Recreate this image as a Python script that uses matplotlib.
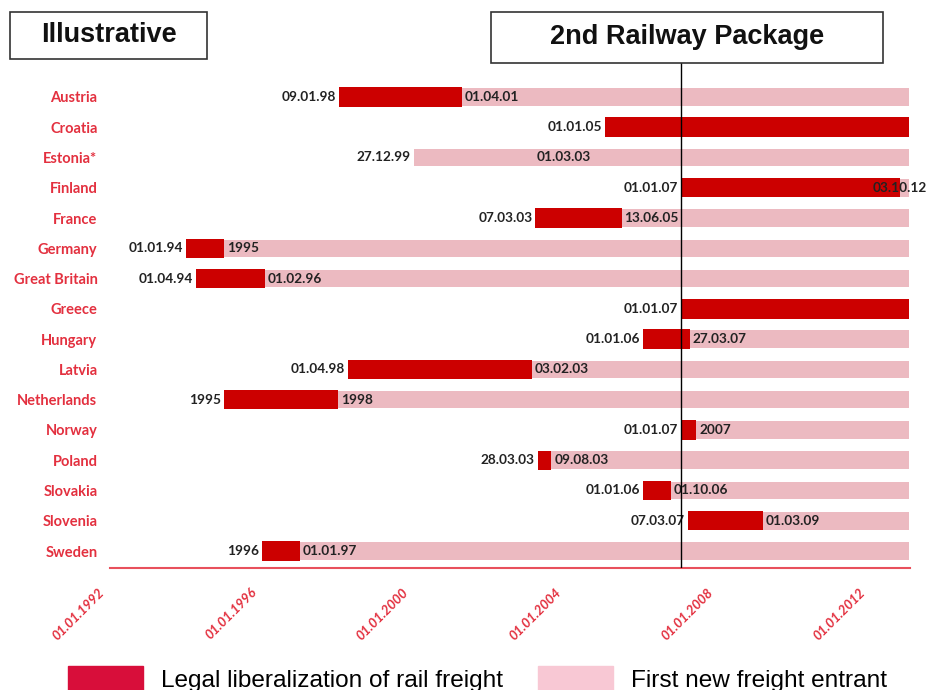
import matplotlib
matplotlib.use("Agg")
import matplotlib.pyplot as plt
from matplotlib.patches import Rectangle, Patch
import matplotlib.transforms as mtransforms
import numpy as np

# --------------------------
# data: dates as dd.mm.yy (or yyyy)
# --------------------------
countries = ["Austria", "Croatia", "Estonia*", "Finland", "France", "Germany",
             "Great Britain", "Greece", "Hungary", "Latvia", "Netherlands",
             "Norway", "Poland", "Slovakia", "Slovenia", "Sweden"]

# legal liberalization of rail freight
lib_dates = ["09.01.98", "01.01.05", "01.03.03", "01.01.07", "07.03.03", "01.01.94",
             "01.04.94", "01.01.07", "01.01.06", "01.04.98", "1995",
             "01.01.07", "28.03.03", "01.01.06", "07.03.07", "1996"]

# first new freight entrant (None = no entrant yet)
entrant_dates = ["01.04.01", None, "27.12.99", "03.10.12", "13.06.05", "1995",
                 "01.02.96", None, "27.03.07", "03.02.03", "1998",
                 "01.06.07", "09.08.03", "01.10.06", "01.03.09", "01.01.97"]
# Norway only known by year
entrant_text = {"Norway": "2007"}

period_end = "31.12.12"
package_date = "01.01.07"   # 2nd Railway Package

tick_years = [1992, 1996, 2000, 2004, 2008, 2012]
tick_labels = ["01.01.%d" % y for y in tick_years]

dark = "#cc0000"
pink = "#ecbac1"
red_txt = "#e3303f"


def to_year(s):
    parts = s.split(".")
    if len(parts) == 1:
        return float(parts[0])
    d, m, y = (int(p) for p in parts)
    y = y + (1900 if y > 50 else 2000)
    return y + (m - 1) / 12 + (d - 1) / 365


fig = plt.figure(figsize=(9.33, 6.9), dpi=100)
ax = fig.add_axes([110 / 933, (690 - 568) / 690, 800 / 933, (568 - 63) / 690])

end = to_year(period_end)
lab_kw = dict(fontsize=9.8, fontweight="bold", family=["Lato", "DejaVu Sans"],
              color="#222222", va="center", textcoords="offset points")

for i, c in enumerate(countries):
    lib = to_year(lib_dates[i])
    ent = to_year(entrant_dates[i]) if entrant_dates[i] else None
    ent_txt = entrant_text.get(c, entrant_dates[i])

    if ent is None:
        ax.barh(i, end - lib, left=lib, height=0.64, color=dark)
        ax.annotate(lib_dates[i], (lib, i), xytext=(-2, 0), ha="right", **lab_kw)
    elif ent < lib:
        # entrant came before the legal opening
        ax.barh(i, end - ent, left=ent, height=0.58, color=pink)
        ax.annotate(ent_txt, (ent, i), xytext=(-2, 0), ha="right", **lab_kw)
        ax.annotate(lib_dates[i], (lib, i), xytext=(1, 0), ha="left", **lab_kw)
    else:
        ax.barh(i, end - ent, left=ent, height=0.58, color=pink)
        ax.barh(i, ent - lib, left=lib, height=0.64, color=dark)
        ax.annotate(lib_dates[i], (lib, i), xytext=(-2, 0), ha="right", **lab_kw)
        if end - ent < 0.5:
            ax.annotate(ent_txt, (ent, i), xytext=(0, 0), ha="center", **lab_kw)
        else:
            ax.annotate(ent_txt, (ent, i), xytext=(2, 0), ha="left", **lab_kw)

ax.axvline(to_year(package_date), color="black", lw=1, zorder=5)

ax.set_xlim(1992, 2013.03)
ax.set_ylim(15.56, -1.12)
ax.set_yticks(np.arange(len(countries)))
ax.set_yticklabels(countries, color=red_txt, fontsize=10.5, fontweight="bold",
                   family=["Lato", "DejaVu Sans"])
ax.tick_params(axis="y", length=0, pad=9)

ax.set_xticks(tick_years)
ax.set_xticklabels(tick_labels, rotation=45, ha="right", va="top",
                   rotation_mode="anchor", color=red_txt, fontsize=9.5,
                   fontstyle="italic", fontweight="bold",
                   family=["Lato", "DejaVu Sans"])
ax.tick_params(axis="x", length=0, pad=13)
shift = mtransforms.ScaledTranslation(-12 / 100, 0, fig.dpi_scale_trans)
for t in ax.get_xticklabels():
    t.set_transform(t.get_transform() + shift)

for s in ["top", "right", "left"]:
    ax.spines[s].set_visible(False)
ax.spines["bottom"].set_color("#e8505c")
ax.spines["bottom"].set_linewidth(1.5)

# header boxes
W, H = 933, 690
for (x0, y0, x1, y1), txt in [((10, 12, 207, 59), "Illustrative"),
                              ((491, 12, 883, 63), "2nd Railway Package")]:
    fig.patches.append(Rectangle((x0 / W, 1 - y1 / H), (x1 - x0) / W, (y1 - y0) / H,
                                 transform=fig.transFigure, fill=False,
                                 ec="#333333", lw=1.2))
    fig.text((x0 + x1) / 2 / W, 1 - (y0 + y1) / 2 / H, txt, ha="center",
             va="center", fontsize=19.5, fontweight="bold",
             family=["Liberation Sans", "DejaVu Sans"], color="#111111")

handles = [Patch(color="#d80e3a", label="Legal liberalization of rail freight"),
           Patch(color="#f8c8d4", label="First new freight entrant")]
fig.legend(handles=handles, loc="center left", bbox_to_anchor=(68 / W, 11 / H),
           ncol=2, frameon=False, prop={"family": ["Liberation Sans", "DejaVu Sans"],
                                        "size": 17.6},
           handlelength=3.05, handleheight=1.1, handletextpad=0.75,
           columnspacing=1.45, borderpad=0, borderaxespad=0)

fig.savefig("out.png", dpi=100)
